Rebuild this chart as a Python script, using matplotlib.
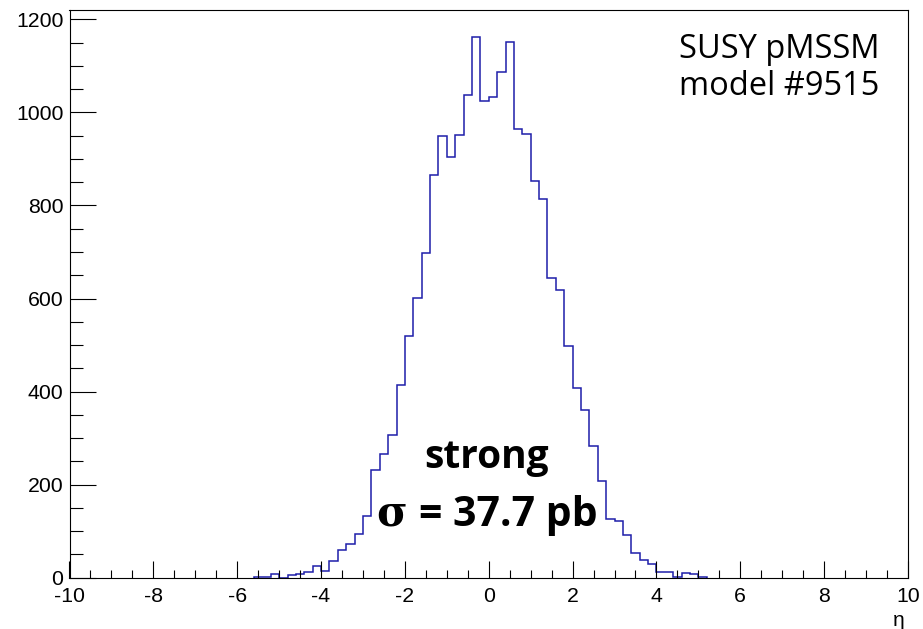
import numpy as np
import matplotlib
matplotlib.use("Agg")
import matplotlib.pyplot as plt
from matplotlib.ticker import MultipleLocator

# Histogram data: eta bins of width 0.2 starting at -5.6
bin_start = -5.6
bin_width = 0.2
counts = [2, 2, 8, 0, 5, 8, 13, 26, 15, 36,
          59, 73, 94, 133, 231, 266, 306, 415, 519, 601,
          697, 866, 949, 905, 951, 1037, 1162, 1024, 1034, 1086,
          1151, 965, 954, 853, 814, 643, 619, 497, 407, 361,
          282, 208, 127, 121, 91, 53, 39, 29, 13, 13,
          2, 10, 8, 2]
x_ticks = [-10, -8, -6, -4, -2, 0, 2, 4, 6, 8, 10]
y_ticks = [0, 200, 400, 600, 800, 1000, 1200]
model_line1 = "SUSY pMSSM"
model_line2 = "model #9515"
line1 = "strong"
sigma_sym = "σ"
line2 = "= 37.7 pb"
x_label = "η"

W, H = 923, 629
fig = plt.figure(figsize=(W / 100, H / 100), dpi=100)
ax = fig.add_axes([69.5 / W, (H - 577.7) / H, (908 - 69.5) / W, (577.7 - 10) / H])

edges = bin_start + bin_width * np.arange(len(counts) + 1)
ax.stairs(counts, edges, color="#1e1eaa", linewidth=1.1, baseline=0)

ax.set_xlim(-10, 10)
ax.set_ylim(0, 1220)
ax.set_xticks(x_ticks)
ax.set_yticks(y_ticks)
ax.xaxis.set_minor_locator(MultipleLocator(0.5))
ax.yaxis.set_minor_locator(MultipleLocator(50))

lab_font = {"family": "Liberation Sans", "size": 15.3}
ax.set_xticklabels([str(t) for t in x_ticks], fontdict=lab_font)
ax.set_yticklabels([str(t) for t in y_ticks], fontdict=lab_font)
ax.tick_params(axis="x", which="major", direction="in", length=12.5, width=0.8, pad=6.5)
ax.tick_params(axis="x", which="minor", direction="in", length=6, width=0.8)
ax.tick_params(axis="y", which="major", direction="in", length=19, width=0.8, pad=4.5)
ax.tick_params(axis="y", which="minor", direction="in", length=9.5, width=0.8)
for s in ax.spines.values():
    s.set_linewidth(0.8)

fig.text(905 / W, (H - 620) / H, x_label, ha="right", va="center",
         fontsize=15, family=["Liberation Sans", "DejaVu Sans"])

fig.text(779.5 / W, (H - 58) / H, model_line1, ha="center", va="baseline",
         fontsize=23.5, family="Open Sans")
fig.text(779.5 / W, (H - 95) / H, model_line2, ha="center", va="baseline",
         fontsize=23.5, family="Open Sans")

fig.text(486.5 / W, (H - 468) / H, line1, ha="center", va="baseline",
         fontsize=28, fontweight="bold", family="Open Sans")
fig.text(407 / W, (H - 526) / H, sigma_sym, ha="right", va="baseline",
         fontsize=30, fontweight="bold", family="DejaVu Serif")
fig.text(419 / W, (H - 526) / H, line2, ha="left", va="baseline",
         fontsize=29.5, fontweight="bold", family="Open Sans")

fig.savefig("out.png", dpi=100)
